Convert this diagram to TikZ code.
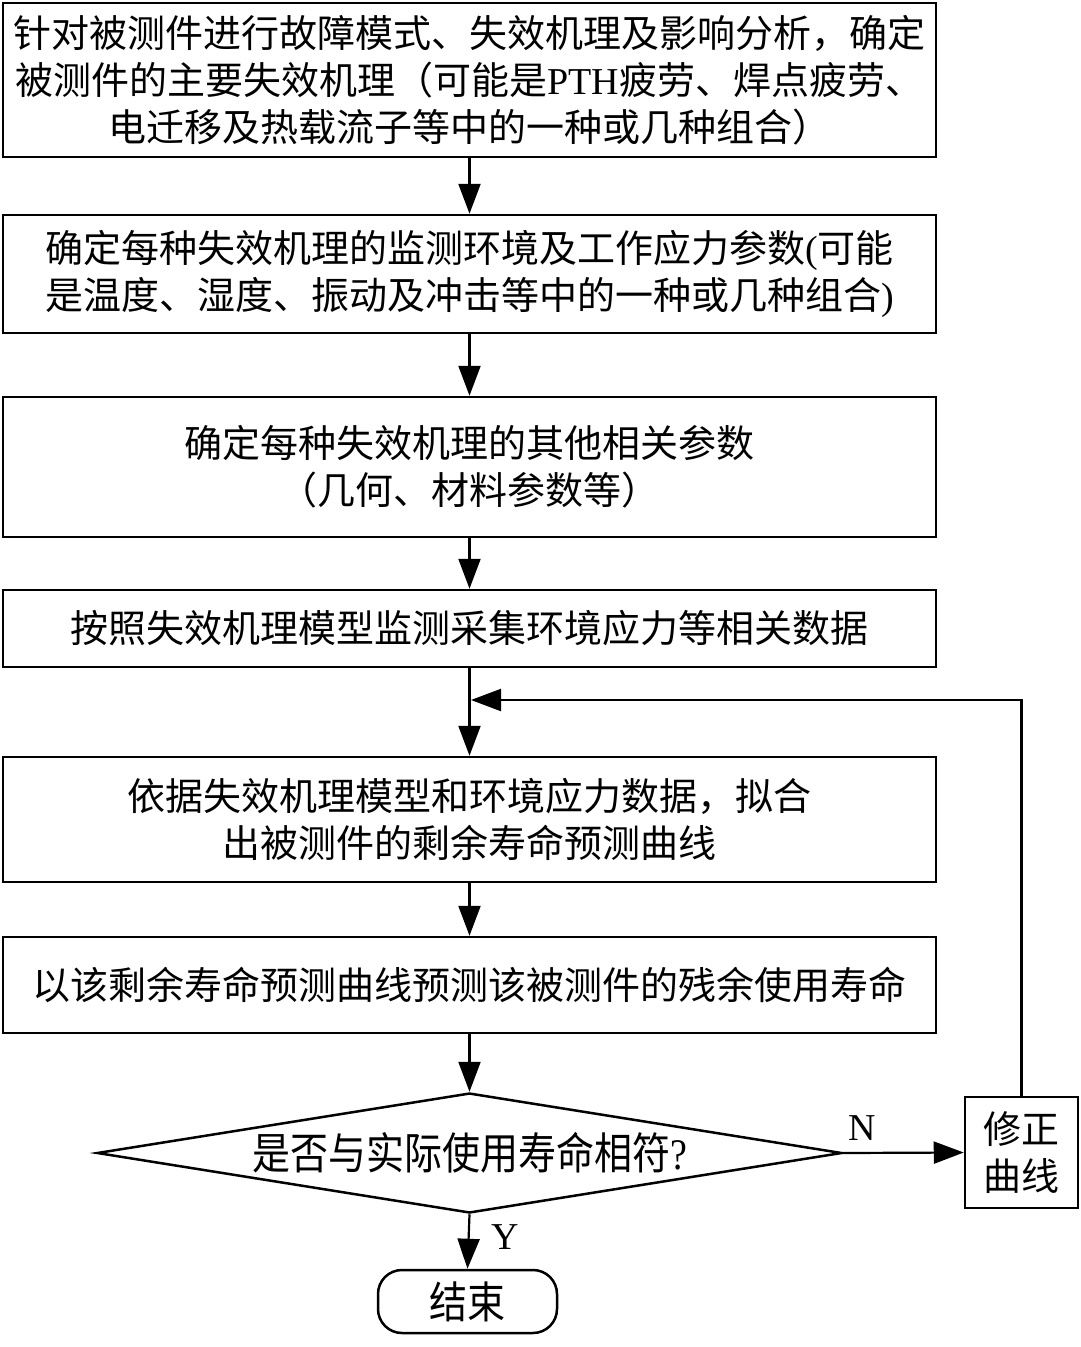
\documentclass[tikz,border=0pt]{standalone}
\usepackage{fontspec}
\usepackage{graphicx}
\setmainfont{Noto Sans CJK SC}
\newfontfamily\lat{Liberation Serif}
\usetikzlibrary{shapes.geometric,arrows.meta}
\newcommand{\tallt}[1]{\scalebox{1}[1.15]{#1}}
\begin{document}
\begin{tikzpicture}[x=1pt,y=-1pt,
  every node/.style={font=\fontsize{38}{47}\selectfont},
  stepbox/.style={draw,line width=2.5pt,inner sep=0pt,align=center,minimum width=933pt},
  arr/.style={line width=2.2pt,-{Triangle[length=30pt,width=22pt]}},
  lbl/.style={font=\fontsize{38}{40}\selectfont\lat,inner sep=0pt}]
\useasboundingbox (0,0) rectangle (1080,1347);
\fill[white] (0,0) rectangle (1080,1347);
\node[stepbox,minimum height=154pt] (b1) at (469.5,80)
  {针对被测件进行故障模式、失效机理及影响分析，确定\\被测件的主要失效机理（可能是{\lat PTH}疲劳、焊点疲劳、\\电迁移及热载流子等中的一种或几种组合）};
\node[stepbox,minimum height=118pt] (b2) at (469.5,274)
  {确定每种失效机理的监测环境及工作应力参数{\lat(}可能\\是温度、湿度、振动及冲击等中的一种或几种组合{\lat)}};
\node[stepbox,minimum height=140pt] (b3) at (469.5,467)
  {确定每种失效机理的其他相关参数\\（几何、材料参数等）};
\node[stepbox,minimum height=77pt] (b4) at (469.5,628.5)
  {按照失效机理模型监测采集环境应力等相关数据};
\node[stepbox,minimum height=125pt] (b5) at (469.5,819.5)
  {依据失效机理模型和环境应力数据，拟合\\出被测件的剩余寿命预测曲线};
\node[stepbox,minimum height=96pt] (b6) at (469.5,985)
  {以该剩余寿命预测曲线预测该被测件的残余使用寿命};
\node[draw,line width=2.5pt,shape=diamond,aspect=6.2,inner sep=0pt,
  minimum width=745pt,minimum height=120pt] (dia) at (469.5,1153)
  {\tallt{是否与实际使用寿命相符{\lat ?}}};
\node[draw,line width=2.5pt,minimum width=113pt,minimum height=111pt,
  align=center,inner sep=0pt] (fix) at (1021.5,1152.5) {修正\\曲线};
\node[draw,line width=2.5pt,rounded corners=24pt,minimum width=179pt,
  minimum height=63pt,inner sep=0pt] (end) at (467.5,1301.5) {\tallt{结束}};
\coordinate (j) at (471,700);
\draw[arr] (b1) -- (b2);
\draw[arr] (b2) -- (b3);
\draw[arr] (b3) -- (b4);
\draw[arr] (b4) -- (b5);
\draw[arr] (b5) -- (b6);
\draw[arr] (b6) -- (dia);
\draw[arr] (dia.east) -- (fix.west);
\draw[arr] (dia.south) -- (end.north);
\draw[arr] (fix.north) |- (j);
\node[lbl] (n) at (862,1128) {N};
\node[lbl] (y) at (505,1237) {Y};
\end{tikzpicture}
\end{document}
